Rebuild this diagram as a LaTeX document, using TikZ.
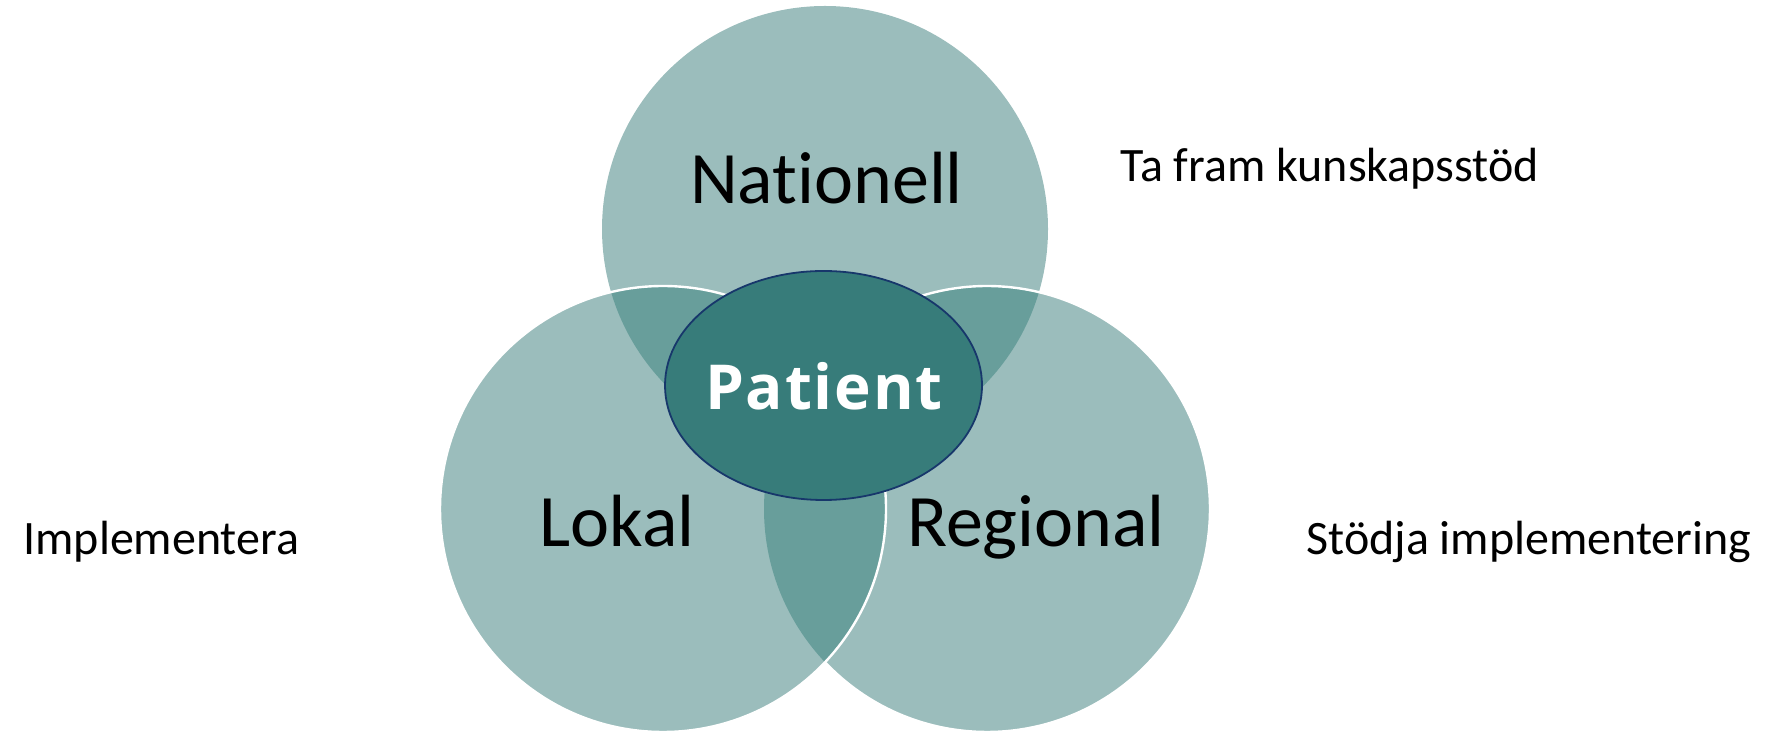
\documentclass[tikz,border=0pt]{standalone}
\usepackage{fontspec}
\setmainfont{Carlito}[Ligatures=NoCommon]
\newfontfamily\patientfont[LetterSpace=3]{Open Sans}
\usetikzlibrary{shapes.geometric}
\definecolor{circleFill}{HTML}{9BBDBC}
\definecolor{overlapFill}{HTML}{689E9B}
\definecolor{patientFill}{HTML}{377C7A}
\definecolor{patientDraw}{HTML}{17376B}
\tikzstyle{level} = [circle, minimum size=223pt, inner sep=0pt, fill=circleFill]
\tikzstyle{overlap} = [fill=overlapFill]
\tikzstyle{rim} = [draw=white, line width=1.2pt]
\tikzstyle{levelname} = [inner sep=0pt, anchor=base, font=\fontsize{37}{42}\selectfont]
\tikzstyle{task} = [inner sep=0pt, anchor=base west, font=\fontsize{24}{28}\selectfont]
\tikzstyle{patient} = [ellipse, minimum width=158.5pt, minimum height=114.5pt, inner sep=0pt, fill=patientFill, draw=patientDraw, line width=0.9pt]
\tikzstyle{patientname} = [inner sep=0pt, anchor=base, text=white, font=\patientfont\bfseries\fontsize{31}{35}\selectfont]

\begin{document}
\begin{tikzpicture}[x=0.5pt, y=0.5pt]
\useasboundingbox (0,0) rectangle (1775,732);

\node (nationell) [level] at (825,503) {};
\node (regional) [level] at (987,223) {};
\node (lokal) [level] at (663,223) {};

\begin{scope}
\clip (nationell.center) circle (111.5pt);
\fill [overlap] (lokal.center) circle (111.5pt);
\fill [overlap] (regional.center) circle (111.5pt);
\end{scope}
\begin{scope}
\clip (lokal.center) circle (111.5pt);
\fill [overlap] (regional.center) circle (111.5pt);
\end{scope}

\draw [rim] (regional.center) ++(-136.6:111.5pt) arc (-136.6:136.6:111.5pt);
\draw [rim] (lokal.center) circle (111.5pt);

\node (patient) [patient] at (823.5,346.5) {};
\node (patientText) [patientname] at (824,322) {Patient};

\node (nationellText) [levelname] at (826.5,528) {Nationell};
\node (lokalText) [levelname] at (617,185) {Lokal};
\node (regionalText) [levelname] at (1036,185) {Regional};

\node (taskNationell) [task] at (1120,550) {Ta fram kunskapsstöd};
\node (taskLokal) [task] at (23,177) {Implementera};
\node (taskRegional) [task] at (1306,177) {Stödja implementering};

\end{tikzpicture}
\end{document}
